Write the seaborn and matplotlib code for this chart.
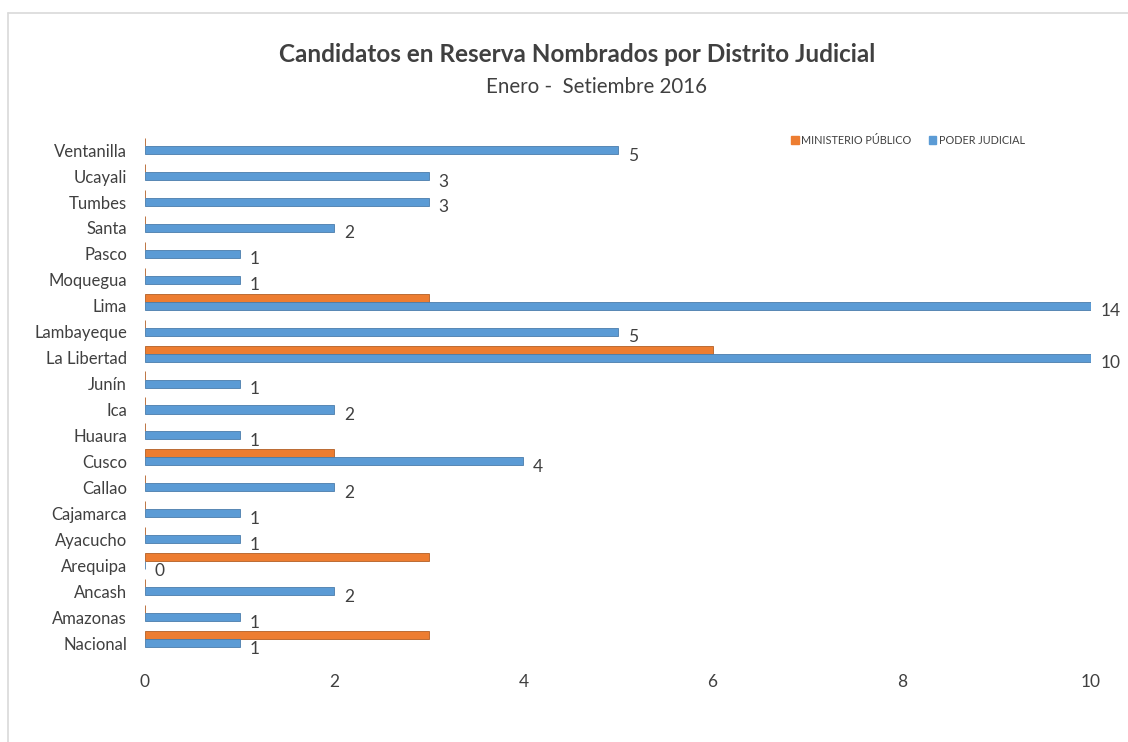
import pandas as pd
import matplotlib
matplotlib.use('Agg')
import matplotlib.pyplot as plt
from matplotlib.lines import Line2D
from matplotlib.transforms import ScaledTranslation
import seaborn as sns

# datos (de arriba hacia abajo)
distritos = ['Ventanilla', 'Ucayali', 'Tumbes', 'Santa', 'Pasco', 'Moquegua', 'Lima',
             'Lambayeque', 'La Libertad', 'Junín', 'Ica', 'Huaura', 'Cusco', 'Callao',
             'Cajamarca', 'Ayacucho', 'Arequipa', 'Ancash', 'Amazonas', 'Nacional']
ministerio_publico = [0, 0, 0, 0, 0, 0, 3, 0, 6, 0, 0, 0, 2, 0, 0, 0, 3, 0, 0, 3]
poder_judicial = [5, 3, 3, 2, 1, 1, 14, 5, 10, 1, 2, 1, 4, 2, 1, 1, 0, 2, 1, 1]
series = ['MINISTERIO PÚBLICO', 'PODER JUDICIAL']

df = pd.DataFrame({
    'distrito': distritos * 2,
    'serie': [series[0]] * len(distritos) + [series[1]] * len(distritos),
    'valor': ministerio_publico + poder_judicial,
})

sns.set_style('white')
plt.rcParams['font.family'] = ['Lato', 'DejaVu Sans']
texto = '#404040'

fig = plt.figure(figsize=(11.28, 7.42), dpi=100)
ax = fig.add_axes([145 / 1128, 1 - 652 / 742, 946 / 1128, 519 / 742])

sns.barplot(data=df, y='distrito', x='valor', hue='serie', order=distritos,
            hue_order=series, palette=['#ED7D31', '#5B9BD5'], width=0.62,
            orient='h', ax=ax, legend=False, saturation=1)

# bordes oscuros (imitan el efecto 3D de Excel)
for cont, borde in zip(ax.containers, ['#B35F25', '#4A7DAB']):
    for p in cont:
        p.set_edgecolor(borde)
        p.set_linewidth(0.6)

ax.set_xlim(0, 10)
ax.set_xticks([0, 2, 4, 6, 8, 10])
ax.set_xlabel('')
ax.set_ylabel('')
sns.despine(ax=ax, left=True, bottom=True)
ax.tick_params(axis='x', length=0, pad=16, labelsize=12.5, labelcolor=texto)
ax.tick_params(axis='y', length=0, pad=13, labelsize=12, labelcolor=texto)

# nombres de distrito un poco más abajo, como en el original
desplazar = ScaledTranslation(0, -3 / 72, fig.dpi_scale_trans)
for lbl in ax.get_yticklabels():
    lbl.set_transform(lbl.get_transform() + desplazar)

# etiquetas de valor para Poder Judicial
for p, v in zip(ax.containers[1], poder_judicial):
    yc = p.get_y() + p.get_height() / 2
    ax.annotate(f'{v}', (min(v, 10), yc), xytext=(7, -4), textcoords='offset points',
                ha='left', va='center', fontsize=12.5, color=texto, annotation_clip=False)

# leyenda
handles = [plt.Rectangle((0, 0), 1, 1, color=c) for c in ['#ED7D31', '#5B9BD5']]
fig.legend(handles, series, loc='center', bbox_to_anchor=(908 / 1128, 1 - 140 / 742),
           ncol=2, frameon=False, fontsize=7.8, handlelength=0.7, handleheight=0.7,
           handletextpad=0.2, columnspacing=1.6, labelcolor=texto)

fig.text(577 / 1128, 1 - 54 / 742, 'Candidatos en Reserva Nombrados por Distrito Judicial',
         ha='center', va='center', fontsize=17.5, fontweight='bold', color=texto)
fig.text(596 / 1128, 1 - 87 / 742, 'Enero -  Setiembre 2016',
         ha='center', va='center', fontsize=14.8, color=texto)

# marco del área del gráfico
fig.add_artist(Line2D([8 / 1128, 1], [1 - 13 / 742] * 2, transform=fig.transFigure,
                      color='#D9D9D9', lw=1.2))
fig.add_artist(Line2D([8 / 1128] * 2, [0, 1 - 13 / 742], transform=fig.transFigure,
                      color='#D9D9D9', lw=1.2))

fig.savefig('out.png', dpi=100)
